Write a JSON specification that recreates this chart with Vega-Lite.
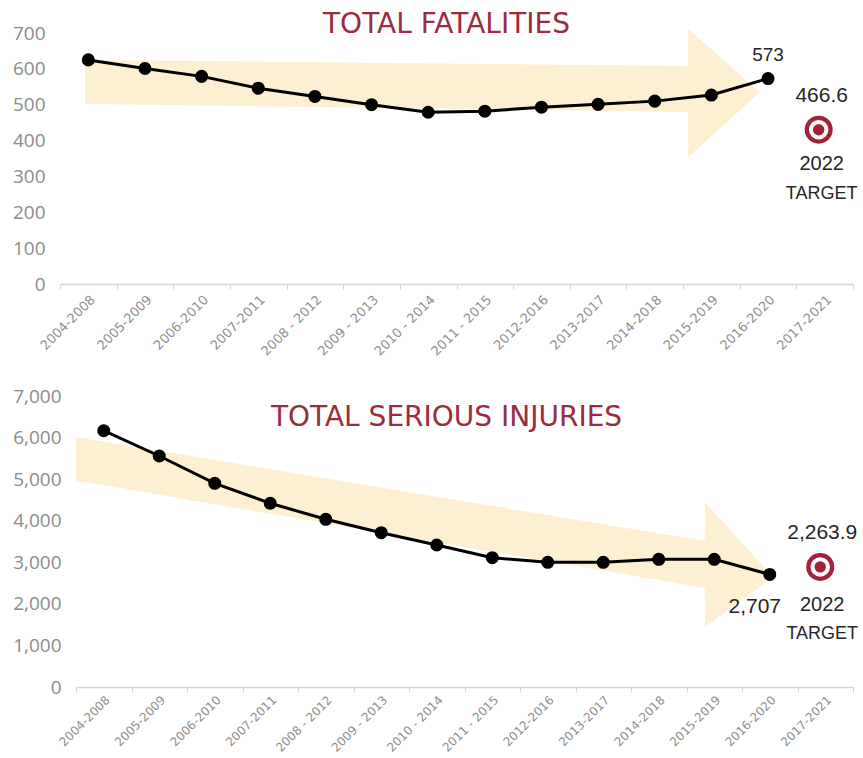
{
  "$schema": "https://vega.github.io/schema/vega-lite/v6.json",
  "padding": {"left": 12, "top": 11, "right": 0, "bottom": 0},
  "background": "white",
  "spacing": 28,
  "config": {
    "view": {"stroke": null},
    "axis": {"grid": false, "title": null},
    "axisX": {"labelAngle": -45, "labelFont": "DejaVu Sans", "labelFontSize": 13, "labelColor": "#8f8f8f", "domainColor": "#d6d6d6", "domainWidth": 1.5, "tickColor": "#d6d6d6", "tickSize": 5, "tickBand": "extent", "labelPadding": 4},
    "axisY": {"domain": false, "ticks": false, "labelFont": "Open Sans", "labelFontSize": 19, "labelColor": "#8c8c8c", "labelPadding": 15},
    "title": {"font": "DejaVu Sans", "fontSize": 28, "fontWeight": "normal", "color": "#9b2c3e", "frame": "group", "anchor": "middle"}
  },
  "datasets": {
    "fatal": [
      {"period": "2004-2008", "value": 625},
      {"period": "2005-2009", "value": 601},
      {"period": "2006-2010", "value": 579},
      {"period": "2007-2011", "value": 546},
      {"period": "2008 - 2012", "value": 523},
      {"period": "2009 - 2013", "value": 500},
      {"period": "2010 - 2014", "value": 479},
      {"period": "2011 - 2015", "value": 482},
      {"period": "2012-2016", "value": 493},
      {"period": "2013-2017", "value": 501},
      {"period": "2014-2018", "value": 510},
      {"period": "2015-2019", "value": 527},
      {"period": "2016-2020", "value": 573, "label": "573"}
    ],
    "fatalArrow": [
      {"u": 0.44, "top": 625, "bottom": 502},
      {"u": 11.09, "top": 608, "bottom": 480},
      {"u": 11.091, "top": 711, "bottom": 354},
      {"u": 12.36, "top": 535, "bottom": 535}
    ],
    "fatalTarget": [
      {"period": "2017-2021", "value": 466.6, "label": "466.6", "year": "2022"}
    ],
    "injury": [
      {"period": "2004-2008", "value": 6165},
      {"period": "2005-2009", "value": 5557},
      {"period": "2006-2010", "value": 4900},
      {"period": "2007-2011", "value": 4419},
      {"period": "2008 - 2012", "value": 4034},
      {"period": "2009 - 2013", "value": 3712},
      {"period": "2010 - 2014", "value": 3416},
      {"period": "2011 - 2015", "value": 3111},
      {"period": "2012-2016", "value": 3000},
      {"period": "2013-2017", "value": 3000},
      {"period": "2014-2018", "value": 3072},
      {"period": "2015-2019", "value": 3072},
      {"period": "2016-2020", "value": 2707, "label": "2,707"}
    ],
    "injuryArrow": [
      {"u": 0, "top": 6014, "bottom": 4967},
      {"u": 11.33, "top": 3512, "bottom": 2382},
      {"u": 11.331, "top": 4450, "bottom": 1443},
      {"u": 12.56, "top": 2646, "bottom": 2646}
    ],
    "injuryTarget": [
      {"period": "2017-2021", "value": 2263.9, "label": "2,263.9", "year": "2022"}
    ]
  },
  "vconcat": [
    {
      "width": 777,
      "height": 251,
      "title": {"text": "TOTAL FATALITIES", "dx": -18, "offset": -37, "baseline": "alphabetic"},
      "resolve": {"scale": {"x": "independent"}},
      "layer": [
        {
          "data": {"name": "fatalArrow"},
          "mark": {"type": "area", "color": "#fdefd2", "opacity": 1, "orient": "vertical"},
          "encoding": {
            "x": {"field": "u", "type": "quantitative", "scale": {"domain": [0, 14], "range": [-16, 777], "nice": false}, "axis": null},
            "y": {"field": "top", "type": "quantitative", "scale": {"domain": [0, 700], "nice": false}, "stack": null, "axis": {"values": [0, 100, 200, 300, 400, 500, 600, 700], "labelPadding": 31}},
            "y2": {"field": "bottom"}
          }
        },
        {
          "encoding": {
            "x": {"field": "period", "type": "ordinal", "sort": null,
                  "axis": {"labelAngle": -45},
                  "scale": {"type": "band", "paddingInner": 0, "paddingOuter": 0, "range": [-16, 777],
                            "domain": ["2004-2008", "2005-2009", "2006-2010", "2007-2011", "2008 - 2012", "2009 - 2013", "2010 - 2014", "2011 - 2015", "2012-2016", "2013-2017", "2014-2018", "2015-2019", "2016-2020", "2017-2021"]}},
            "y": {"field": "value", "type": "quantitative", "axis": {"values": [0, 100, 200, 300, 400, 500, 600, 700], "labelPadding": 31}}
          },
          "layer": [
            {"data": {"name": "fatal"}, "mark": {"type": "line", "color": "#000000", "strokeWidth": 3}},
            {"data": {"name": "fatal"}, "mark": {"type": "point", "filled": true, "color": "#000000", "size": 170, "opacity": 1}},
            {"data": {"name": "fatal"}, "transform": [{"filter": "datum.label"}], "mark": {"type": "text", "font": "Liberation Sans", "fontSize": 19, "color": "#262626", "dy": -24}, "encoding": {"text": {"field": "label"}}},
            {"data": {"name": "fatalTarget"}, "mark": {"type": "point", "filled": true, "color": "#a3223a", "size": 784, "opacity": 1, "xOffset": -6, "yOffset": 13}},
            {"data": {"name": "fatalTarget"}, "mark": {"type": "point", "filled": true, "color": "#ffffff", "size": 380, "opacity": 1, "xOffset": -6, "yOffset": 13}},
            {"data": {"name": "fatalTarget"}, "mark": {"type": "point", "filled": true, "color": "#a3223a", "size": 130, "opacity": 1, "xOffset": -6, "yOffset": 13}},
            {"data": {"name": "fatalTarget"}, "mark": {"type": "text", "font": "Liberation Sans", "fontSize": 21, "color": "#262626", "dx": -3, "dy": -21}, "encoding": {"text": {"field": "label"}}},
            {"data": {"name": "fatalTarget"}, "mark": {"type": "text", "font": "Liberation Sans", "fontSize": 20, "color": "#262626", "dx": -3, "dy": 47}, "encoding": {"text": {"field": "year"}}},
            {"data": {"name": "fatalTarget"}, "mark": {"type": "text", "font": "Liberation Sans", "fontSize": 18, "color": "#262626", "dx": -3, "dy": 77, "text": "TARGET"}}
          ]
        }
      ]
    },
    {
      "width": 777,
      "height": 291,
      "title": {"text": "TOTAL SERIOUS INJURIES", "dx": -18, "offset": -67, "baseline": "alphabetic"},
      "resolve": {"scale": {"x": "independent"}},
      "layer": [
        {
          "data": {"name": "injuryArrow"},
          "mark": {"type": "area", "color": "#fdefd2", "opacity": 1, "orient": "vertical"},
          "encoding": {
            "x": {"field": "u", "type": "quantitative", "scale": {"domain": [0, 14], "nice": false}, "axis": null},
            "y": {"field": "top", "type": "quantitative", "scale": {"domain": [0, 7000], "nice": false}, "stack": null, "axis": {"values": [0, 1000, 2000, 3000, 4000, 5000, 6000, 7000], "format": ",d"}},
            "y2": {"field": "bottom"}
          }
        },
        {
          "encoding": {
            "x": {"field": "period", "type": "ordinal", "sort": null,
                  "axis": {"labelAngle": -45, "labelFontSize": 12, "labelPadding": 2},
                  "scale": {"type": "band", "paddingInner": 0, "paddingOuter": 0,
                            "domain": ["2004-2008", "2005-2009", "2006-2010", "2007-2011", "2008 - 2012", "2009 - 2013", "2010 - 2014", "2011 - 2015", "2012-2016", "2013-2017", "2014-2018", "2015-2019", "2016-2020", "2017-2021"]}},
            "y": {"field": "value", "type": "quantitative", "axis": {"values": [0, 1000, 2000, 3000, 4000, 5000, 6000, 7000], "format": ",d"}}
          },
          "layer": [
            {"data": {"name": "injury"}, "mark": {"type": "line", "color": "#000000", "strokeWidth": 3}},
            {"data": {"name": "injury"}, "mark": {"type": "point", "filled": true, "color": "#000000", "size": 170, "opacity": 1}},
            {"data": {"name": "injury"}, "transform": [{"filter": "datum.label"}], "mark": {"type": "text", "font": "Liberation Sans", "fontSize": 21, "color": "#262626", "dx": -15, "dy": 33}, "encoding": {"text": {"field": "label"}}},
            {"data": {"name": "injuryTarget"}, "mark": {"type": "point", "filled": true, "color": "#a3223a", "size": 784, "opacity": 1, "xOffset": -5, "yOffset": -26}},
            {"data": {"name": "injuryTarget"}, "mark": {"type": "point", "filled": true, "color": "#ffffff", "size": 380, "opacity": 1, "xOffset": -5, "yOffset": -26}},
            {"data": {"name": "injuryTarget"}, "mark": {"type": "point", "filled": true, "color": "#a3223a", "size": 130, "opacity": 1, "xOffset": -5, "yOffset": -26}},
            {"data": {"name": "injuryTarget"}, "mark": {"type": "text", "font": "Liberation Sans", "fontSize": 21, "color": "#262626", "dx": -3, "dy": -60}, "encoding": {"text": {"field": "label"}}},
            {"data": {"name": "injuryTarget"}, "mark": {"type": "text", "font": "Liberation Sans", "fontSize": 20, "color": "#262626", "dx": -3, "dy": 12}, "encoding": {"text": {"field": "year"}}},
            {"data": {"name": "injuryTarget"}, "mark": {"type": "text", "font": "Liberation Sans", "fontSize": 18, "color": "#262626", "dx": -3, "dy": 41, "text": "TARGET"}}
          ]
        }
      ]
    }
  ]
}
